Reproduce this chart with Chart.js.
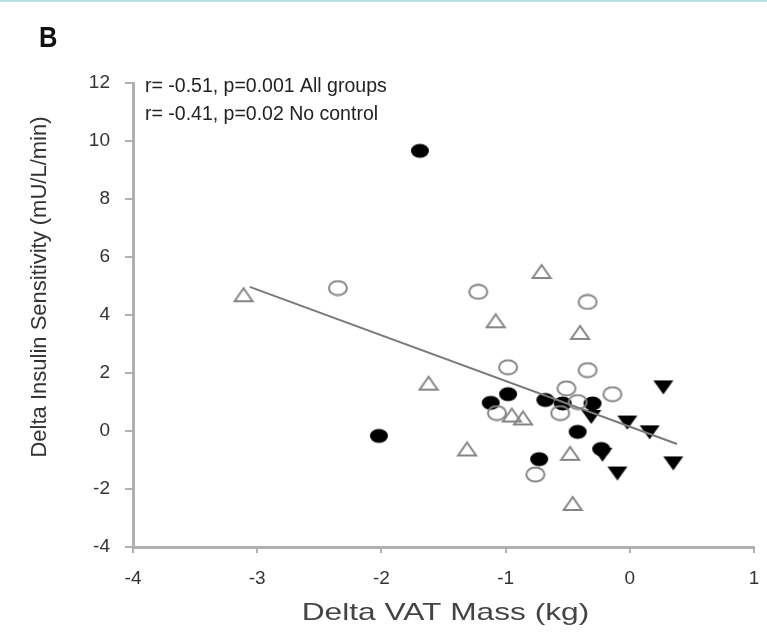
<!DOCTYPE html>
<html>
<head>
<meta charset="utf-8">
<script src="https://cdn.jsdelivr.net/npm/chart.js@4"></script>
<style>
  body { margin: 0; background: #fff; }
  canvas { display: block; }
</style>
</head>
<body>
<canvas id="chart" width="767" height="637"></canvas>
<script>
// data (x = delta VAT mass kg, y = delta insulin sensitivity)
const filledCircles = [
  [-1.69, 9.66], [-2.02, -0.17], [-1.12, 0.97], [-0.98, 1.27], [-0.68, 1.07],
  [-0.54, 0.95], [-0.30, 0.95], [-0.42, -0.03], [-0.23, -0.62], [-0.73, -0.97]
];
const filledTriangles = [
  [0.27, 1.52], [-0.31, 0.50], [-0.02, 0.31], [0.16, -0.03], [-0.22, -0.80],
  [-0.10, -1.45], [0.35, -1.10]
];
const openCircles = [
  [-2.35, 4.93], [-1.22, 4.80], [-0.34, 4.45], [-0.98, 2.20], [-0.34, 2.10],
  [-0.51, 1.47], [-0.14, 1.27], [-0.42, 1.00], [-0.56, 0.62], [-1.07, 0.62],
  [-0.76, -1.50]
];
const openTriangles = [
  [-3.11, 4.70], [-0.71, 5.50], [-1.08, 3.80], [-0.40, 3.40], [-1.62, 1.65],
  [-0.95, 0.55], [-0.86, 0.45], [-1.31, -0.62], [-0.48, -0.77], [-0.46, -2.50]
];
const fitLine = [[-3.06, 4.97], [0.38, -0.45]];
const xTicks = [-4, -3, -2, -1, 0, 1];
const yTicks = [-4, -2, 0, 2, 4, 6, 8, 10, 12];
const statLines = ['r= -0.51, p=0.001 All groups', 'r= -0.41, p=0.02 No control'];
const xTitle = 'Delta VAT Mass (kg)';
const yTitle = 'Delta Insulin Sensitivity (mU/L/min)';

const toPts = arr => arr.map(p => ({ x: p[0], y: p[1] }));
const fontFam = '"Liberation Sans", Arial, sans-serif';

// marker images
function marker(kind) {
  const c = document.createElement('canvas');
  c.width = 22; c.height = 17;
  const g = c.getContext('2d');
  g.lineWidth = 2;
  if (kind === 'fcircle' || kind === 'ocircle') {
    g.beginPath();
    g.ellipse(11, 8.5, 9, 7, 0, 0, Math.PI * 2);
    if (kind === 'fcircle') { g.fillStyle = '#000'; g.fill(); }
    else { g.strokeStyle = '#858585'; g.stroke(); }
  } else if (kind === 'otri') {
    g.beginPath();
    g.moveTo(11, 2); g.lineTo(20, 15); g.lineTo(2, 15); g.closePath();
    g.strokeStyle = '#858585'; g.stroke();
  } else {
    g.beginPath();
    g.moveTo(1, 2); g.lineTo(21, 2); g.lineTo(11, 16); g.closePath();
    g.fillStyle = '#000'; g.fill();
  }
  return c;
}

// text drawn with a horizontal squeeze/stretch like the scanned figure
function stretchText(ctx, text, x, y, sx, align) {
  ctx.save();
  ctx.translate(x, y);
  ctx.scale(sx, 1);
  ctx.textAlign = align || 'left';
  ctx.fillText(text, 0, 0);
  ctx.restore();
}

const decor = {
  id: 'decor',
  beforeDraw(chart) {
    const ctx = chart.ctx;
    ctx.save();
    ctx.fillStyle = '#b8e2e2';
    ctx.fillRect(0, 0, chart.width, 2);
    ctx.restore();
  },
  afterDraw(chart) {
    const ctx = chart.ctx;
    const area = chart.chartArea;
    ctx.save();
    ctx.textBaseline = 'alphabetic';
    ctx.fillStyle = '#111';
    ctx.font = 'bold 30px ' + fontFam;
    stretchText(ctx, 'B', 39, 47, 0.85);
    ctx.fillStyle = '#222';
    ctx.font = '19.5px ' + fontFam;
    ctx.fillText(statLines[0], 145, 92);
    ctx.fillText(statLines[1], 145, 120);
    // axis titles
    ctx.fillStyle = '#444';
    ctx.font = '24px ' + fontFam;
    ctx.textBaseline = 'middle';
    stretchText(ctx, xTitle, (area.left + area.right) / 2 + 2, 613, 1.32, 'center');
    ctx.save();
    ctx.translate(40, 287);
    ctx.rotate(-Math.PI / 2);
    ctx.fillStyle = '#333';
    ctx.font = '22px ' + fontFam;
    ctx.textAlign = 'center';
    ctx.fillText(yTitle, 0, 0);
    ctx.restore();
    ctx.restore();
  }
};

const axisGray = '#b0b0b0';
const textColor = '#333';

new Chart(document.getElementById('chart'), {
  type: 'scatter',
  data: {
    datasets: [
      { type: 'line', data: toPts(fitLine), borderColor: '#7a7a7a', borderWidth: 2,
        pointRadius: 0, fill: false },
      { data: toPts(openTriangles), pointStyle: marker('otri') },
      { data: toPts(openCircles), pointStyle: marker('ocircle') },
      { data: toPts(filledCircles), pointStyle: marker('fcircle') },
      { data: toPts(filledTriangles), pointStyle: marker('ftri') }
    ]
  },
  options: {
    responsive: false,
    animation: false,
    layout: { padding: { top: 83, right: 13, left: 0, bottom: 0 } },
    plugins: { legend: { display: false }, tooltip: { enabled: false } },
    scales: {
      x: {
        type: 'linear', min: -4, max: 1,
        afterFit: s => { s.height = 90; s.paddingLeft = 0; s.paddingRight = 0; },
        afterBuildTicks: s => { s.ticks = xTicks.map(v => ({ value: v })); },
        grid: { drawOnChartArea: false, drawTicks: true, tickLength: 6, color: axisGray, lineWidth: 2 },
        border: { display: true, color: axisGray, width: 3 },
        ticks: { color: textColor, padding: 14, font: { family: fontFam, size: 19 } }
      },
      y: {
        type: 'linear', min: -4, max: 12,
        afterFit: s => { s.width = 133; s.paddingTop = 0; s.paddingBottom = 0; },
        afterBuildTicks: s => { s.ticks = yTicks.map(v => ({ value: v })); },
        grid: { drawOnChartArea: false, drawTicks: true, tickLength: 8, color: axisGray, lineWidth: 2 },
        border: { display: true, color: axisGray, width: 3 },
        ticks: { color: textColor, padding: 15, font: { family: fontFam, size: 19 } }
      }
    }
  },
  plugins: [decor]
});
</script>
</body>
</html>
